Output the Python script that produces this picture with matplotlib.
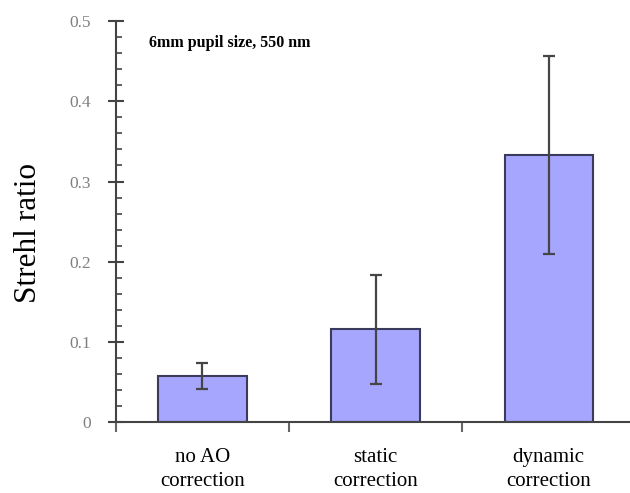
import numpy as np
import matplotlib.pyplot as plt
from matplotlib.ticker import MultipleLocator, FixedLocator, NullFormatter

categories = ['no AO\ncorrection', 'static\ncorrection', 'dynamic\ncorrection']
strehl = [0.057, 0.116, 0.333]
err = [0.016, 0.068, 0.124]

plt.rcParams['font.family'] = ['Liberation Serif', 'DejaVu Serif']

fig = plt.figure(figsize=(6.3, 4.93), dpi=100)
ax = fig.add_axes([0.184, 0.144, 0.816, 0.813])

x = np.arange(len(categories))
ax.bar(x, strehl, width=0.51, color='#a6a6ff', edgecolor='#3a3a5c', linewidth=1.5, zorder=2)
ax.errorbar(x, strehl, yerr=err, fmt='none', ecolor='#454545', elinewidth=1.6,
            capsize=4, capthick=1.6, zorder=3)

ax.set_xlim(-0.5, 2.47)
ax.set_ylim(0, 0.5)

for s in ['top', 'right']:
    ax.spines[s].set_visible(False)
for s in ['left', 'bottom']:
    ax.spines[s].set_color('#444444')
    ax.spines[s].set_linewidth(1.5)

# y ticks
ax.yaxis.set_minor_locator(MultipleLocator(0.02))
ax.set_yticks([0, 0.1, 0.2, 0.3, 0.4, 0.5])
ax.set_yticklabels(['0', '0.1', '0.2', '0.3', '0.4', '0.5'])
ax.tick_params(axis='y', which='major', direction='inout', length=12, width=1.5,
               color='#444444', labelsize=12.5, labelcolor='#808080', pad=12)
ax.tick_params(axis='y', which='minor', direction='in', length=4, width=1.2,
               color='#444444')

# x ticks: boundaries between categories, labels centred on bars
ax.xaxis.set_major_locator(FixedLocator([-0.5, 0.5, 1.5]))
ax.xaxis.set_major_formatter(NullFormatter())
ax.xaxis.set_minor_locator(FixedLocator(x))
ax.set_xticklabels(categories, minor=True, linespacing=1.32)
ax.tick_params(axis='x', which='major', direction='out', length=7, width=1.5,
               color='#666666')
ax.tick_params(axis='x', which='minor', length=0, labelsize=15, pad=19)

ax.set_ylabel('Strehl ratio', fontsize=22.5)
ax.yaxis.set_label_coords(-0.142, 0.472)

ax.text(0.065, 0.945, '6mm pupil size, 550 nm', transform=ax.transAxes,
        fontsize=11.5, fontweight='bold', ha='left', va='center')

fig.savefig('out.png', dpi=100)
